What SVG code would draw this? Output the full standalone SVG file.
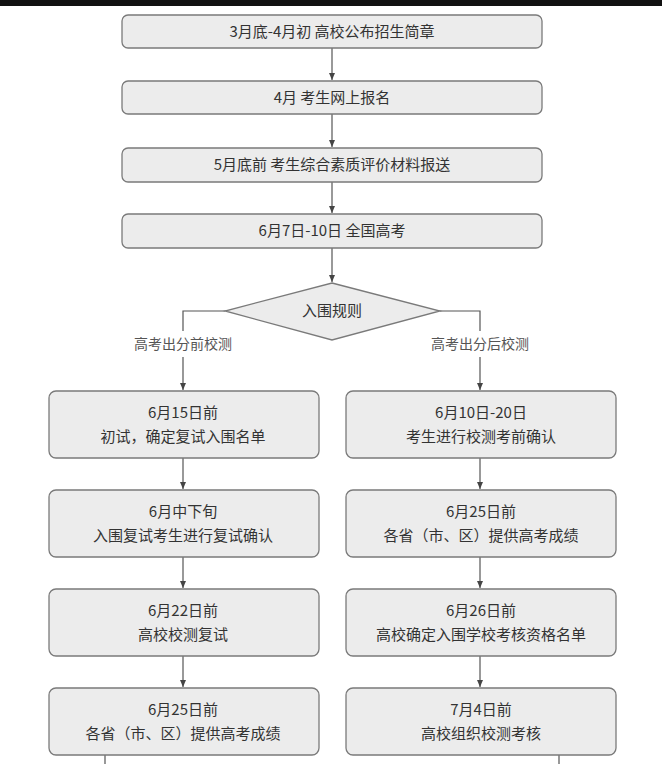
<svg xmlns="http://www.w3.org/2000/svg" width="662" height="764" viewBox="0 0 662 764">
<defs>
<style>
.b{fill:#ececec;stroke:#7a7a7a;stroke-width:1.3}
.t{font-family:"Noto Sans CJK SC","Liberation Sans",sans-serif;font-size:15px;fill:#333;text-anchor:middle}
.l{font-family:"Noto Sans CJK SC","Liberation Sans",sans-serif;font-size:14px;fill:#555;text-anchor:middle}
.c{fill:none;stroke:#555;stroke-width:1.2}
</style>
<marker id="a" markerWidth="8" markerHeight="8" refX="7" refY="4" orient="auto" markerUnits="userSpaceOnUse"><path d="M0,1 L7,4 L0,7z" fill="#444"/></marker>
</defs>
<rect width="662" height="764" fill="#fff"/>
<rect width="662" height="6" fill="#111"/>
<g id="connectors">
<path class="c" d="M332,48V80" marker-end="url(#a)"/>
<path class="c" d="M332,114V147" marker-end="url(#a)"/>
<path class="c" d="M332,182V213" marker-end="url(#a)"/>
<path class="c" d="M332,248V282" marker-end="url(#a)"/>
<path class="c" d="M225,311H183V331M183,357V390" marker-end="url(#a)"/>
<path class="c" d="M440,311H480V331M480,357V390" marker-end="url(#a)"/>
<path class="c" d="M183,458V489" marker-end="url(#a)"/>
<path class="c" d="M183,557V588" marker-end="url(#a)"/>
<path class="c" d="M183,656V687" marker-end="url(#a)"/>
<path class="c" d="M480,458V489" marker-end="url(#a)"/>
<path class="c" d="M480,557V588" marker-end="url(#a)"/>
<path class="c" d="M480,656V687" marker-end="url(#a)"/>
<path class="c" d="M105,755V764M559,755V764"/>
<text class="l" x="183" y="349">高考出分前校测</text>
<text class="l" x="480" y="349">高考出分后校测</text>
</g>
<g id="n1"><rect class="b" x="122" y="15" width="420" height="33" rx="6"/><text class="t" x="332" y="37">3月底-4月初 高校公布招生简章</text></g>
<g id="n2"><rect class="b" x="122" y="81" width="420" height="33" rx="6"/><text class="t" x="332" y="103">4月 考生网上报名</text></g>
<g id="n3"><rect class="b" x="122" y="148" width="420" height="34" rx="6"/><text class="t" x="332" y="170">5月底前 考生综合素质评价材料报送</text></g>
<g id="n4"><rect class="b" x="122" y="214" width="420" height="34" rx="6"/><text class="t" x="332" y="236">6月7日-10日 全国高考</text></g>
<g id="d"><polygon class="b" points="332,283 440,311 332,340 225,311"/><text class="t" x="332" y="316">入围规则</text></g>
<g id="l1"><rect class="b" x="49" y="391" width="270" height="67" rx="7"/><text class="t" x="183" y="418">6月15日前</text><text class="t" x="183" y="442">初试，确定复试入围名单</text></g>
<g id="l2"><rect class="b" x="49" y="490" width="270" height="67" rx="7"/><text class="t" x="183" y="517">6月中下旬</text><text class="t" x="183" y="541">入围复试考生进行复试确认</text></g>
<g id="l3"><rect class="b" x="49" y="589" width="270" height="67" rx="7"/><text class="t" x="183" y="616">6月22日前</text><text class="t" x="183" y="640">高校校测复试</text></g>
<g id="l4"><rect class="b" x="49" y="688" width="270" height="67" rx="7"/><text class="t" x="183" y="715">6月25日前</text><text class="t" x="183" y="739">各省（市、区）提供高考成绩</text></g>
<g id="r1"><rect class="b" x="346" y="391" width="270" height="67" rx="7"/><text class="t" x="481" y="418">6月10日-20日</text><text class="t" x="481" y="442">考生进行校测考前确认</text></g>
<g id="r2"><rect class="b" x="346" y="490" width="270" height="67" rx="7"/><text class="t" x="481" y="517">6月25日前</text><text class="t" x="481" y="541">各省（市、区）提供高考成绩</text></g>
<g id="r3"><rect class="b" x="346" y="589" width="270" height="67" rx="7"/><text class="t" x="481" y="616">6月26日前</text><text class="t" x="481" y="640">高校确定入围学校考核资格名单</text></g>
<g id="r4"><rect class="b" x="346" y="688" width="270" height="67" rx="7"/><text class="t" x="481" y="715">7月4日前</text><text class="t" x="481" y="739">高校组织校测考核</text></g>
</svg>
